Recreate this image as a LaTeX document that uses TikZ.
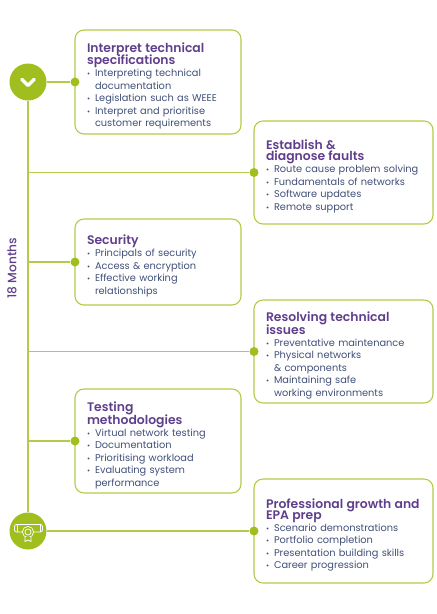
\documentclass[tikz,border=0pt]{standalone}
\usepackage{fontspec}
\setmainfont{Poppins}
\newfontfamily\headfont{Poppins SemiBold}
\newfontfamily\sidefont{Poppins Medium}
\usepackage{xcolor}
\usetikzlibrary{arrows.meta,positioning,calc}
\definecolor{leafgreen}{HTML}{A0BE1E}
\definecolor{linegreen}{HTML}{B2CC4A}
\definecolor{headpurple}{HTML}{5F3F8C}
\definecolor{textnavy}{HTML}{3F4F78}
\newcommand{\hd}[1]{{\fontsize{12.4}{12.5}\headfont\color{headpurple}#1}}
\newcommand{\hdtop}[1]{\rule{0pt}{18pt}\hd{#1}}
\newcommand{\bul}{\makebox[8pt][l]{\fontsize{7.5}{12.5}\selectfont\textbullet}}
\newcommand{\cnt}{\hspace*{8pt}}

\begin{document}
\begin{tikzpicture}[
  x=1pt,y=-1pt,
  card/.style={draw=linegreen, rounded corners=9pt, line width=1.1pt, outer sep=0pt,
    inner xsep=12pt, inner ysep=0pt, align=left, text=textnavy,
    font=\fontsize{9.8}{12.5}\selectfont},
  cardl/.style={card,text width=142pt,minimum width=166pt},
  cardr/.style={card,text width=155pt,minimum width=179pt},
  dot/.style={circle,fill=leafgreen,inner sep=0pt,minimum size=9pt},
  badge/.style={circle,fill=leafgreen,inner sep=0pt,minimum size=37pt},
  spine/.style={line width=1.2pt,draw=linegreen},
  icon/.style={draw=white,line width=.7pt}
]
\useasboundingbox (0,0) rectangle (437,614);
\node[cardl,minimum height=104pt] (specs) at (158,82)
 {\hdtop{Interpret technical}\\[-1.5pt]\hd{specifications}\\[-.5pt]
  \bul Interpreting technical\\\cnt documentation\\
  \bul Legislation such as WEEE\\
  \bul Interpret and prioritise\\\cnt customer requirements};
\node[cardr,minimum height=103pt,below right=-13pt and 13pt of specs] (faults)
 {\hdtop{Establish \&}\\[-1.5pt]\hd{diagnose faults}\\[-.5pt]
  \bul Route cause problem solving\\
  \bul Fundamentals of networks\\
  \bul Software updates\\
  \bul Remote support};
\node[cardl,minimum height=86pt,below left=-5pt and 13pt of faults] (security)
 {\hdtop{Security}\\[-.5pt]
  \bul Principals of security\\
  \bul Access \& encryption\\
  \bul Effective working\\\cnt relationships};
\node[cardr,minimum height=103pt,below right=-5pt and 13pt of security] (issues)
 {\hdtop{Resolving technical}\\[-1.5pt]\hd{issues}\\[-.5pt]
  \bul Preventative maintenance\\
  \bul Physical networks\\\cnt \& components\\
  \bul Maintaining safe\\\cnt working environments};
\node[cardl,minimum height=104pt,below left=-14pt and 13pt of issues] (testing)
 {\hdtop{Testing}\\[-1.5pt]\hd{methodologies}\\[-.5pt]
  \bul Virtual network testing\\
  \bul Documentation\\
  \bul Prioritising workload\\
  \bul Evaluating system\\\cnt performance};
\node[cardr,minimum height=104pt,below right=-14pt and 13pt of testing] (growth)
 {\hdtop{Professional growth and}\\[-1.5pt]\hd{EPA prep}\\[-.5pt]
  \bul Scenario demonstrations\\
  \bul Portfolio completion\\
  \bul Presentation building skills\\
  \bul Career progression};
% badges on the time line
\node[badge] (start) at (28,82) {};
\node[badge] (finish) at (28,531) {};
\node[dot] (specsdot) at (specs.west) {};
\node[dot] (faultsdot) at (faults.west) {};
\node[dot] (securitydot) at (security.west) {};
\node[dot] (issuesdot) at (issues.west) {};
\node[dot] (testingdot) at (testing.west) {};
\node[dot] (growthdot) at (growth.west) {};
\draw[spine] (start) -- (finish);
\draw[spine] (start) -- (specsdot);
\draw[spine] (start |- faultsdot) -- (faultsdot);
\draw[spine] (start |- securitydot) -- (securitydot);
\draw[spine] (start |- issuesdot) -- (issuesdot);
\draw[spine] (start |- testingdot) -- (testingdot);
\draw[spine] (finish) -- (growthdot);
\node[rotate=90,text=headpurple,font=\fontsize{12.2}{12}\sidefont] (months) at (12,268) {18 Months};
% chevron
\draw[white,line width=3.4pt,line cap=round,line join=round]
 (21.8,79.4) -- (28,85.4) -- (34.2,79.4);
% scroll and medal
\draw[icon,rounded corners=2pt] (14.5,524.5) rectangle (42.5,532);
\draw[icon] (17,524.5) -- (17,532) (40,524.5) -- (40,532);
\draw[icon,fill=leafgreen] (28,532) circle (5.6pt);
\draw[icon] (28,532) circle (3pt);
\draw[icon,fill=leafgreen] (25,537) -- (25,541.5) -- (28,540) -- (31,541.5) -- (31,537);
\end{tikzpicture}
\end{document}
